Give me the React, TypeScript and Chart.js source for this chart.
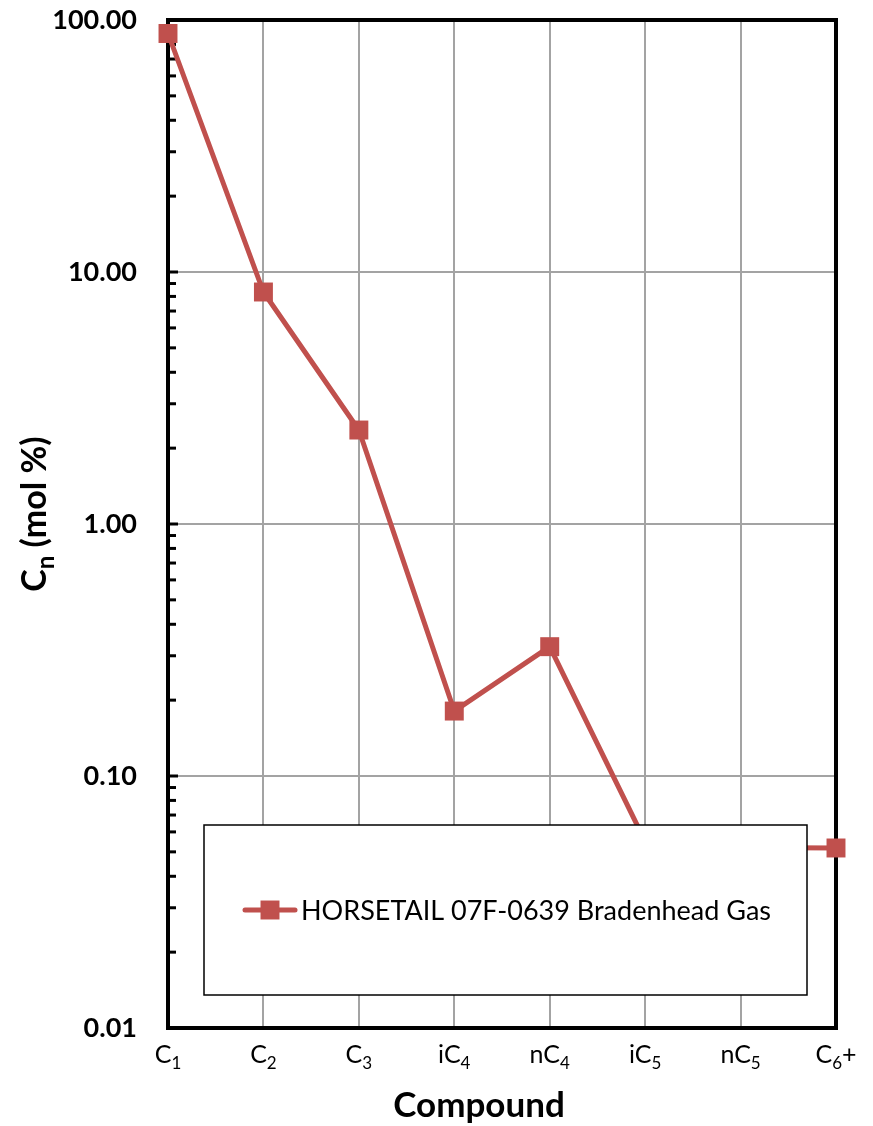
import React, { useEffect, useRef } from 'react';
import { Chart, registerables } from 'chart.js';

Chart.register(...registerables);

// ---- data ----
const categories = ['C1', 'C2', 'C3', 'iC4', 'nC4', 'iC5', 'nC5', 'C6+'];
const seriesLabel = 'HORSETAIL 07F-0639 Bradenhead Gas';
const seriesValues = [88.4, 8.33, 2.36, 0.181, 0.326, 0.055, 0.052, 0.0518];
const yMajorTicks = [0.01, 0.1, 1, 10, 100];
const yMinorMultipliers = [2, 3, 4, 5, 6, 7, 8, 9];
const xTitle = 'Compound';
const yTitleParts = ['C', 'n', ' (mol %)'];

// ---- styles ----
const FONT = 'Lato, "Open Sans", sans-serif';
const SERIES_COLOR = '#C0504D';
const GRID_COLOR = '#a3a3a3';

const yTickValues: number[] = [];
yMajorTicks.forEach((m, i) => {
  yTickValues.push(m);
  if (i < yMajorTicks.length - 1) yMinorMultipliers.forEach((k) => yTickValues.push(m * k));
});

const isMajor = (v: number) => Math.abs(Math.log10(v) - Math.round(Math.log10(v))) < 1e-9;

function drawSubLabel(ctx: CanvasRenderingContext2D, label: string, cx: number, baseY: number, size: number, subSize: number, subDrop: number, weight: string) {
  const m = label.match(/^([a-z]*C)(\d+)(.*)$/);
  const parts = m ? [m[1], m[2], m[3]] : [label, '', ''];
  const mainFont = `${weight} ${size}px ${FONT}`;
  const subFont = `${weight} ${subSize}px ${FONT}`;
  ctx.font = mainFont;
  const w0 = ctx.measureText(parts[0]).width;
  const w2 = ctx.measureText(parts[2]).width;
  ctx.font = subFont;
  const w1 = ctx.measureText(parts[1]).width;
  let x = cx - (w0 + w1 + w2) / 2;
  ctx.textAlign = 'left';
  ctx.textBaseline = 'alphabetic';
  ctx.font = mainFont;
  ctx.fillText(parts[0], x, baseY);
  x += w0;
  ctx.font = subFont;
  ctx.fillText(parts[1], x, baseY + subDrop);
  x += w1;
  ctx.font = mainFont;
  ctx.fillText(parts[2], x, baseY);
}

const framePlugin = {
  id: 'frame',
  beforeDatasetsDraw(chart: any) {
    const { ctx, chartArea: a, scales } = chart;
    const y = scales.y;
    ctx.save();
    ctx.strokeStyle = '#000';
    ctx.lineWidth = 3;
    for (const t of y.ticks) {
      const py = y.getPixelForValue(t.value);
      const len = isMajor(t.value) ? 10 : 8;
      ctx.beginPath();
      ctx.moveTo(a.left, py);
      ctx.lineTo(a.left + len, py);
      ctx.stroke();
    }
    ctx.lineWidth = 4;
    ctx.strokeRect(a.left, a.top, a.right - a.left, a.bottom - a.top);
    ctx.restore();
  },
};

const overlayPlugin = {
  id: 'overlay',
  afterDatasetsDraw(chart: any) {
    const { ctx, chartArea: a, scales } = chart;
    const x = scales.x;
    ctx.save();
    ctx.fillStyle = '#000';
    // x tick labels
    categories.forEach((c, i) => {
      drawSubLabel(ctx, c, x.getPixelForValue(i), a.bottom + 35, 25, 17, 6, 'normal');
    });
    // x title
    ctx.font = `bold 35px ${FONT}`;
    ctx.textAlign = 'center';
    ctx.textBaseline = 'alphabetic';
    ctx.fillText(xTitle, 479, a.bottom + 89);
    // y title (rotated)
    ctx.save();
    ctx.translate(46, 514);
    ctx.rotate(-Math.PI / 2);
    ctx.font = `bold 34px ${FONT}`;
    const w0 = ctx.measureText(yTitleParts[0]).width;
    const w2 = ctx.measureText(yTitleParts[2]).width;
    ctx.font = `bold 24px ${FONT}`;
    const w1 = ctx.measureText(yTitleParts[1]).width;
    let tx = -(w0 + w1 + w2) / 2;
    ctx.textAlign = 'left';
    ctx.font = `bold 34px ${FONT}`;
    ctx.fillText(yTitleParts[0], tx, 0);
    tx += w0;
    ctx.font = `bold 24px ${FONT}`;
    ctx.fillText(yTitleParts[1], tx, 8);
    tx += w1;
    ctx.font = `bold 34px ${FONT}`;
    ctx.fillText(yTitleParts[2], tx, 0);
    ctx.restore();

    // legend box
    const ds = chart.data.datasets[0];
    const bx = 204, by = 825, bw = 603, bh = 170;
    ctx.fillStyle = '#fff';
    ctx.fillRect(bx, by, bw, bh);
    ctx.strokeStyle = '#000';
    ctx.lineWidth = 1.5;
    ctx.strokeRect(bx, by, bw, bh);
    const ly = by + bh / 2;
    ctx.strokeStyle = ds.borderColor;
    ctx.lineWidth = ds.borderWidth;
    ctx.lineCap = 'round';
    ctx.beginPath();
    ctx.moveTo(245, ly);
    ctx.lineTo(295, ly);
    ctx.stroke();
    ctx.fillStyle = ds.pointBackgroundColor;
    const side = ds.pointRadius * Math.SQRT2;
    ctx.fillRect(270 - side / 2, ly - side / 2, side, side);
    ctx.fillStyle = '#000';
    ctx.font = `normal 27px ${FONT}`;
    ctx.textAlign = 'left';
    ctx.textBaseline = 'middle';
    ctx.fillText(ds.label, 301, ly + 1);
    ctx.restore();
  },
};

export default function App() {
  const ref = useRef<HTMLCanvasElement | null>(null);
  useEffect(() => {
    if (!ref.current) return;
    const chart = new Chart(ref.current, {
      type: 'line',
      data: {
        labels: categories,
        datasets: [
          {
            label: seriesLabel,
            data: seriesValues,
            borderColor: SERIES_COLOR,
            backgroundColor: SERIES_COLOR,
            pointBackgroundColor: SERIES_COLOR,
            borderWidth: 5,
            borderCapStyle: 'round',
            borderJoinStyle: 'round',
            pointStyle: 'rect',
            pointRadius: 13.4,
            pointBorderWidth: 0,
            tension: 0,
            clip: false,
          } as any,
        ],
      },
      options: {
        responsive: false,
        animation: false,
        layout: { padding: { top: 20, right: 37, left: 0, bottom: 0 } },
        plugins: { legend: { display: false }, tooltip: { enabled: false } },
        scales: {
          x: {
            type: 'category',
            offset: false,
            grid: { color: GRID_COLOR, lineWidth: 2, drawTicks: false },
            border: { display: false },
            ticks: { display: false },
            afterFit: (s: any) => {
              s.height = 98;
              s.paddingLeft = 0;
              s.paddingRight = 0;
            },
          },
          y: {
            type: 'logarithmic',
            min: 0.01,
            max: 100,
            grid: {
              color: (c: any) => (c.tick && isMajor(c.tick.value) ? GRID_COLOR : 'rgba(0,0,0,0)'),
              lineWidth: 2,
              drawTicks: false,
            },
            border: { display: false },
            afterBuildTicks: (s: any) => {
              s.ticks = yTickValues.map((v) => ({ value: v }));
            },
            ticks: {
              autoSkip: false,
              padding: 31,
              color: '#000',
              font: { family: FONT, size: 27, weight: 'bold' },
              callback: (v: any) => (isMajor(Number(v)) ? Number(v).toFixed(2) : ''),
            },
            afterFit: (s: any) => {
              s.width = 168;
              s.paddingTop = 0;
              s.paddingBottom = 0;
            },
          },
        },
      } as any,
      plugins: [framePlugin, overlayPlugin],
    });
    return () => chart.destroy();
  }, []);
  return (
    <div style={{ position: 'fixed', left: 0, top: 0, width: 873, height: 1126, background: '#fff' }}>
      <canvas ref={ref} width={873} height={1126} style={{ display: 'block' }} />
    </div>
  );
}
